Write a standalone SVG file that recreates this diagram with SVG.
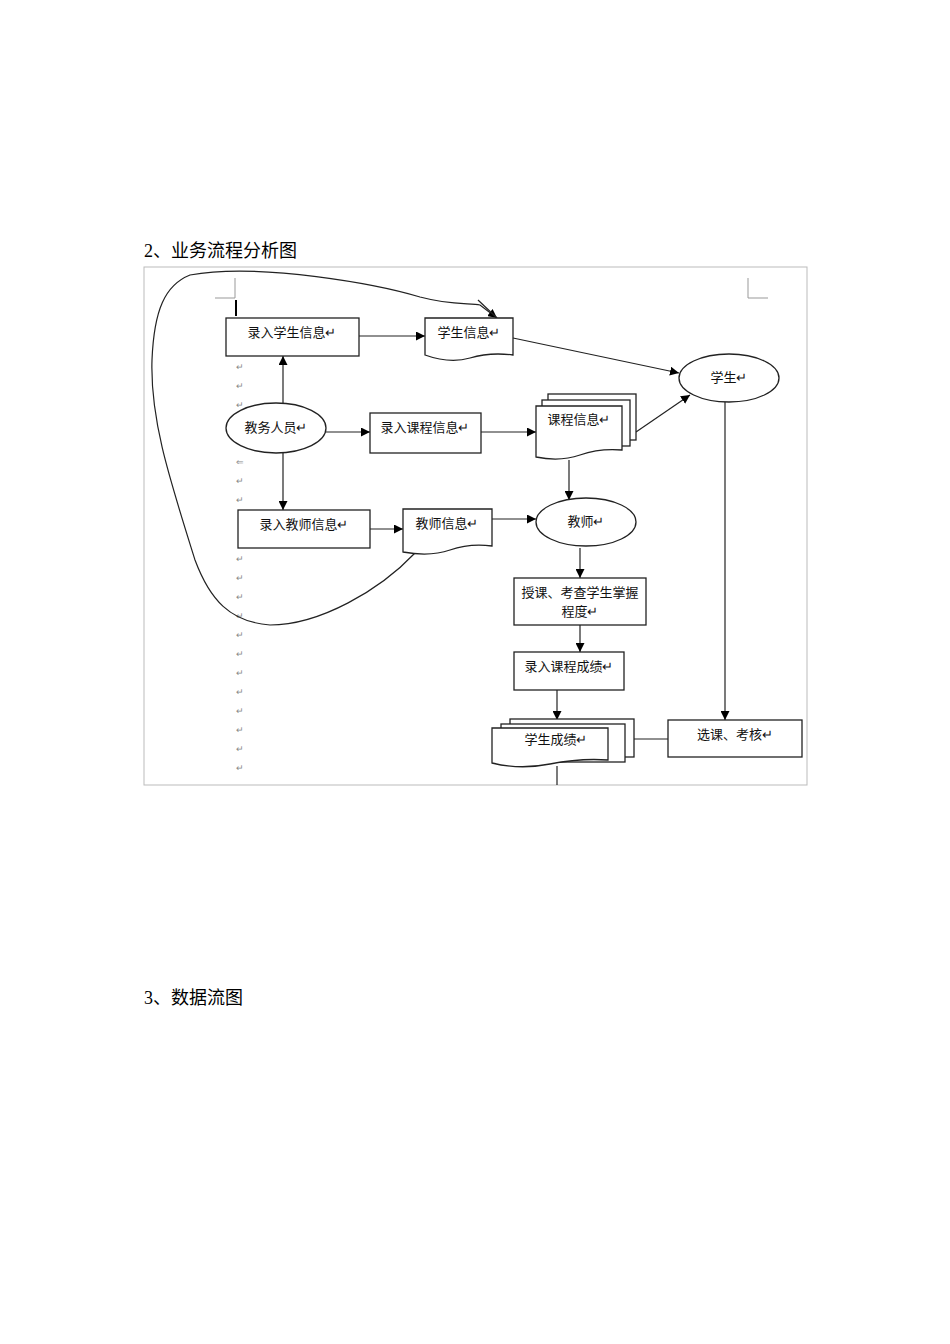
<svg xmlns="http://www.w3.org/2000/svg" width="950" height="1344" viewBox="0 0 950 1344">
<defs>
<marker id="a" viewBox="0 0 10 10" refX="10" refY="5" markerWidth="9" markerHeight="9" markerUnits="userSpaceOnUse" orient="auto"><path d="M0,0L10,5L0,10z" fill="#000"/></marker>
<style>
.s{fill:#fff;stroke:#222;stroke-width:1.3}
.l{fill:none;stroke:#222;stroke-width:1.2}
.t{font-family:"Liberation Sans","Noto Sans CJK SC",sans-serif;font-size:13px;fill:#111;text-anchor:middle}
.r{font-family:"Liberation Sans",sans-serif;font-size:9px;fill:#888}
.h{font-family:"Liberation Serif","Noto Sans CJK SC",serif;font-size:18px;fill:#000}
</style>
</defs>
<rect width="950" height="1344" fill="#fff"/>
<text class="h" x="144" y="257">2、业务流程分析图</text>
<text class="h" x="144" y="1004">3、数据流图</text>
<rect x="144" y="267" width="663" height="518" fill="none" stroke="#bbb"/>
<path d="M215,298H235V278M748,278V298H768" fill="none" stroke="#999"/>
<line x1="236" y1="300" x2="236" y2="316" stroke="#000" stroke-width="2"/>
<g class="r">
<text x="236" y="370">↵</text><text x="236" y="389">↵</text><text x="236" y="408">↵</text><text x="236" y="465">⇐</text><text x="236" y="484">↵</text><text x="236" y="503">↵</text><text x="236" y="562">↵</text><text x="236" y="581">↵</text><text x="236" y="600">↵</text><text x="236" y="619">↵</text><text x="236" y="638">↵</text><text x="236" y="657">↵</text><text x="236" y="676">↵</text><text x="236" y="695">↵</text><text x="236" y="714">↵</text><text x="236" y="733">↵</text><text x="236" y="752">↵</text><text x="236" y="771">↵</text>
</g>
<g id="connectors" class="l">
<path d="M359,336H425" marker-end="url(#a)"/>
<path d="M513,338L679,373" marker-end="url(#a)"/>
<path d="M283,405V356" marker-end="url(#a)"/>
<path d="M326,432H370" marker-end="url(#a)"/>
<path d="M481,432H536" marker-end="url(#a)"/>
<path d="M636,432L690,395" marker-end="url(#a)"/>
<path d="M569,460V500" marker-end="url(#a)"/>
<path d="M283,453V510" marker-end="url(#a)"/>
<path d="M370,529H403" marker-end="url(#a)"/>
<path d="M492,519H536" marker-end="url(#a)"/>
<path d="M725,402V720" marker-end="url(#a)"/>
<path d="M580,548V578" marker-end="url(#a)"/>
<path d="M580,625V652" marker-end="url(#a)"/>
<path d="M557,690V720" marker-end="url(#a)"/>
<path d="M634,739H668"/>
<path d="M557,766V785"/>
<path d="M415,553C380,590 320,625 270,625C230,622 210,600 195,560C170,480 150,420 152,360C154,310 165,285 190,275C260,262 380,285 420,297C450,305 470,303 480,305L497,318" marker-end="url(#a)"/>
<path d="M478,300L497,318"/>
</g>
<g id="n1"><rect class="s" x="226" y="318" width="133" height="38"/><text class="t" x="292" y="337">录入学生信息↵</text></g>
<g id="n2"><path class="s" d="M425,318H513V355Q490,352 470,358T425,355Z"/><text class="t" x="469" y="337">学生信息↵</text></g>
<g id="n3"><ellipse class="s" cx="729" cy="378" rx="50" ry="24"/><text class="t" x="729" y="382">学生↵</text></g>
<g id="n4"><ellipse class="s" cx="276" cy="428" rx="50" ry="25"/><text class="t" x="276" y="432">教务人员↵</text></g>
<g id="n5"><rect class="s" x="370" y="413" width="111" height="40"/><text class="t" x="425" y="432">录入课程信息↵</text></g>
<g id="n6"><rect class="s" x="548" y="394" width="88" height="46"/><rect class="s" x="542" y="400" width="88" height="46"/><path class="s" d="M536,406H622V450Q600,448 580,455T536,457Z"/><text class="t" x="579" y="424">课程信息↵</text></g>
<g id="n7"><ellipse class="s" cx="586" cy="522" rx="50" ry="24"/><text class="t" x="586" y="526">教师↵</text></g>
<g id="n8"><rect class="s" x="238" y="510" width="132" height="38"/><text class="t" x="304" y="529">录入教师信息↵</text></g>
<g id="n9"><path class="s" d="M403,509H492V546Q470,543 450,550T403,552Z"/><text class="t" x="447" y="528">教师信息↵</text></g>
<g id="n10"><rect class="s" x="514" y="578" width="132" height="47"/><text class="t" x="580" y="597">授课、考查学生掌握</text><text class="t" x="580" y="616">程度↵</text></g>
<g id="n11"><rect class="s" x="514" y="652" width="110" height="38"/><text class="t" x="569" y="671">录入课程成绩↵</text></g>
<g id="n12"><rect class="s" x="510" y="719" width="124" height="38"/><rect class="s" x="501" y="724" width="124" height="38"/><path class="s" d="M492,728H608V760Q580,758 550,764T492,763Z"/><text class="t" x="556" y="744">学生成绩↵</text></g>
<g id="n13"><rect class="s" x="668" y="720" width="134" height="37"/><text class="t" x="735" y="739">选课、考核↵</text></g>
</svg>
